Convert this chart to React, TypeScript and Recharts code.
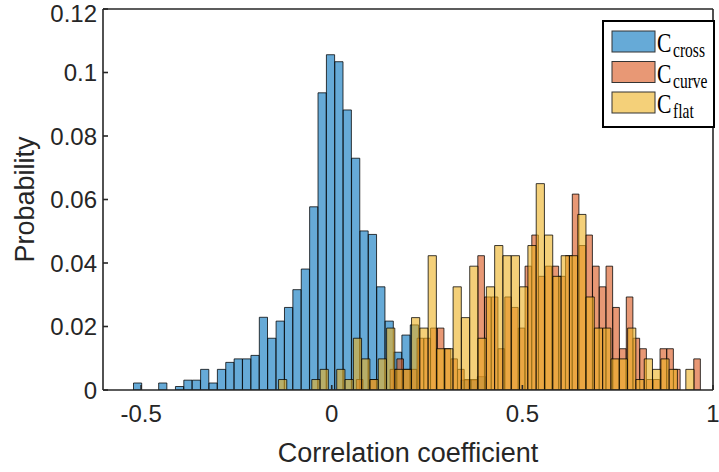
import { Bar, BarChart, XAxis, YAxis } from "recharts";

// bin centres and probabilities
const CROSS_CENTERS = [
  -0.509, -0.487, -0.465, -0.443, -0.421, -0.399, -0.377, -0.355, -0.333, -0.311,
  -0.289, -0.267, -0.245, -0.223, -0.201, -0.179, -0.157, -0.135, -0.113, -0.091,
  -0.069, -0.047, -0.025, -0.003, 0.019, 0.041, 0.063, 0.085, 0.107, 0.129,
  0.151, 0.173, 0.195, 0.217, 0.239, 0.261, 0.283, 0.305, 0.327, 0.349,
  0.371, 0.393,
];
const CROSS_PROB = [
  0.0022, 0, 0, 0.0022, 0, 0.0011, 0.0031, 0.0031, 0.0065, 0.0022,
  0.0065, 0.0087, 0.0098, 0.0098, 0.0109, 0.0229, 0.0163, 0.0217, 0.026, 0.0316,
  0.0381, 0.0577, 0.0936, 0.1056, 0.1034, 0.0882, 0.073, 0.0501, 0.049, 0.0325,
  0.0217, 0.0119, 0.0173, 0.0205, 0, 0, 0, 0, 0, 0.0031,
  0.0031, 0.0042,
];

const CURVE_CENTERS = [
  0.0734, 0.0911, 0.1088, 0.1265, 0.1442, 0.1619, 0.1796, 0.1973, 0.215, 0.2327,
  0.2504, 0.2681, 0.2858, 0.3035, 0.3212, 0.3389, 0.3566, 0.3743, 0.392, 0.4097,
  0.4274, 0.4451, 0.4628, 0.4805, 0.4982, 0.5159, 0.5336, 0.5513, 0.569, 0.5867,
  0.6044, 0.6221, 0.6398, 0.6575, 0.6752, 0.6929, 0.7106, 0.7283, 0.746, 0.7637,
  0.7814, 0.7991, 0.8168, 0.8345, 0.8522, 0.8699, 0.8876, 0.9053, 0.923, 0.9407,
  0.9584,
];
const CURVE_PROB = [
  0.0033, 0, 0.0033, 0, 0, 0.0065, 0.0098, 0.0065, 0.0065, 0.0163,
  0.0163, 0.0195, 0.0195, 0.013, 0.0098, 0.0065, 0.0033, 0.0033, 0.0423, 0.0293,
  0.0293, 0.013, 0.0293, 0.026, 0.0195, 0.039, 0.0488, 0.0358, 0.039, 0.039,
  0.0358, 0.0423, 0.0617, 0.0455, 0.0488, 0.039, 0.0325, 0.039, 0.026, 0.013,
  0.0293, 0.0163, 0.013, 0.0033, 0.0033, 0.013, 0.013, 0.0065, 0, 0,
  0.0098,
];

const FLAT_CENTERS = [
  -0.1286, -0.1068, -0.085, -0.0632, -0.0414, -0.0196, 0.0022, 0.024, 0.0458, 0.0676,
  0.0894, 0.1112, 0.133, 0.1548, 0.1766, 0.1984, 0.2202, 0.242, 0.2638, 0.2856,
  0.3074, 0.3292, 0.351, 0.3728, 0.3946, 0.4164, 0.4382, 0.46, 0.4818, 0.5036,
  0.5254, 0.5472, 0.569, 0.5908, 0.6126, 0.6344, 0.6562, 0.678, 0.6998, 0.7216,
  0.7434, 0.7652, 0.787, 0.8088, 0.8306, 0.8524, 0.8742, 0.896, 0.9178, 0.9396,
];
const FLAT_PROB = [
  0.0033, 0, 0, 0, 0.0033, 0.0065, 0, 0.0065, 0.0033, 0.0163,
  0.0098, 0.0033, 0.0098, 0.0195, 0.0065, 0.0065, 0.0228, 0.0195, 0.0423, 0.013,
  0.013, 0.0325, 0.0228, 0.039, 0.0163, 0.0325, 0.0455, 0.0423, 0.0423, 0.0325,
  0.0455, 0.065, 0.0488, 0.0358, 0.0423, 0.0423, 0.0553, 0.0293, 0.0195, 0.0195,
  0.0098, 0.0098, 0.0195, 0.0033, 0.0098, 0.0065, 0.0098, 0.0065, 0, 0.0065,
];

const X_TICKS = [-0.5, 0, 0.5, 1];
const Y_TICKS = [0, 0.02, 0.04, 0.06, 0.08, 0.1, 0.12];

const SERIES = [
  { key: "cross", sub: "cross", color: "#0072BD", swatch: "#66AAD7" },
  { key: "curve", sub: "curve", color: "#D95319", swatch: "#E89875" },
  { key: "flat", sub: "flat", color: "#EDB120", swatch: "#F4D079" },
];

// each series keeps its own bin grid; rows past the end of a series sit off-axis
const rowCount = Math.max(CROSS_CENTERS.length, CURVE_CENTERS.length, FLAT_CENTERS.length);
const rows = Array.from({ length: rowCount }, (_, i) => ({
  xCross: CROSS_CENTERS[i] ?? 2 + i,
  cross: CROSS_PROB[i] ?? null,
  xCurve: CURVE_CENTERS[i] ?? 2 + i,
  curve: CURVE_PROB[i] ?? null,
  xFlat: FLAT_CENTERS[i] ?? 2 + i,
  flat: FLAT_PROB[i] ?? null,
}));

const INK = "#262626";
const SANS = "'Liberation Sans', Arial, Helvetica, sans-serif";
const SERIF = "'Liberation Serif', 'DejaVu Serif', serif";
const axisStroke = { stroke: INK, strokeWidth: 1.6 };
const tickText = { fill: INK, fontSize: 24, fontFamily: SANS };

function LegendBox() {
  return (
    <svg
      width={719}
      height={472}
      style={{ position: "absolute", left: 0, top: 0, pointerEvents: "none" }}
    >
      <rect x={603} y={21} width={111} height={106} fill="#fff" stroke="#000" strokeWidth={2} />
      {SERIES.map((s, i) => (
        <g key={s.key} transform={`translate(0, ${i * 30.5})`}>
          <rect x={612} y={31} width={43} height={21} fill={s.swatch} stroke="#333" strokeWidth={1} />
          <text transform="translate(657, 52) scale(0.8, 1)" fontFamily={SERIF} fontSize={27} fill="#000">
            C
          </text>
          <text transform="translate(673, 57) scale(0.74, 1)" fontFamily={SERIF} fontSize={21} fill="#000">
            {s.sub}
          </text>
        </g>
      ))}
    </svg>
  );
}

export default function App() {
  return (
    <div style={{ position: "absolute", left: 0, top: 0, width: 719, height: 472, background: "#fff" }}>
      <BarChart
        width={719}
        height={472}
        data={rows}
        margin={{ top: 8, right: 5, left: 0, bottom: 0 }}
        barGap={0}
        barCategoryGap={0}
      >
        <XAxis
          xAxisId="cross"
          dataKey="xCross"
          type="number"
          domain={[-0.6, 1]}
          allowDataOverflow
          ticks={X_TICKS}
          tickFormatter={(v) => String(v)}
          height={82}
          tickSize={-5}
          tickMargin={20}
          axisLine={axisStroke}
          tickLine={axisStroke}
          tick={tickText}
          label={{
            value: "Correlation coefficient",
            position: "insideBottom",
            offset: 10,
            fill: INK,
            fontSize: 27,
            fontFamily: SANS,
          }}
        />
        <XAxis xAxisId="curve" dataKey="xCurve" type="number" domain={[-0.6, 1]} allowDataOverflow hide />
        <XAxis xAxisId="flat" dataKey="xFlat" type="number" domain={[-0.6, 1]} allowDataOverflow hide />
        <XAxis
          xAxisId="top"
          orientation="top"
          type="number"
          domain={[-0.6, 1]}
          allowDataOverflow
          ticks={X_TICKS}
          height={1}
          tickSize={-5}
          tick={false}
          axisLine={axisStroke}
          tickLine={axisStroke}
        />
        <YAxis
          yAxisId="left"
          type="number"
          domain={[0, 0.12]}
          allowDataOverflow
          ticks={Y_TICKS}
          width={103}
          tickSize={-5}
          tickMargin={11}
          axisLine={axisStroke}
          tickLine={axisStroke}
          tick={tickText}
          label={{
            value: "Probability",
            angle: -90,
            position: "insideLeft",
            offset: 24,
            fill: INK,
            fontSize: 27,
            fontFamily: SANS,
            style: { textAnchor: "middle" },
          }}
        />
        <YAxis
          yAxisId="right"
          orientation="right"
          type="number"
          domain={[0, 0.12]}
          allowDataOverflow
          ticks={Y_TICKS}
          width={1}
          tickSize={-5}
          tick={false}
          axisLine={axisStroke}
          tickLine={axisStroke}
        />
        {SERIES.map((s) => (
          <Bar
            key={s.key}
            dataKey={s.key}
            xAxisId={s.key}
            yAxisId="left"
            fill={s.color}
            fillOpacity={0.6}
            stroke="#000"
            strokeOpacity={0.85}
            strokeWidth={0.9}
            barSize={s.key === "curve" ? 6.6 : 8.2}
            isAnimationActive={false}
          />
        ))}
      </BarChart>
      <LegendBox />
    </div>
  );
}
